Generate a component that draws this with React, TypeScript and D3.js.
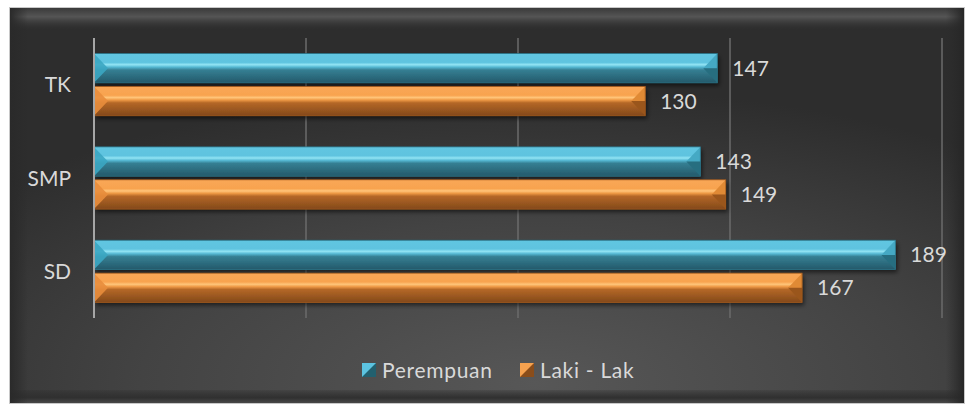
import React from "react";
import * as d3 from "d3";

const categories = ["TK", "SMP", "SD"];
const seriesNames = ["Perempuan", "Laki - Lak"];
const perempuan = [147, 143, 189];
const lakiLaki = [130, 149, 167];
const xTicks = [0, 50, 100, 150, 200];

const W = 965;
const H = 408;

export default function App() {
  const x = d3.scaleLinear().domain([0, 200]).range([94, 942]);
  const y = d3
    .scaleBand<string>()
    .domain(categories)
    .range([38, 318])
    .paddingInner(1 / 3)
    .paddingOuter(1 / 6);
  const ys = d3
    .scaleBand<string>()
    .domain(seriesNames)
    .range([0, y.bandwidth()]);

  const seriesVals = [perempuan, lakiLaki];
  const gradIds = ["gBlue", "gOrange"];
  const leftFace = ["#3ba6c2", "#e88d3c"];
  const rightTop = ["#45a9c4", "#e08a35"];
  const rightBot = ["#276e80", "#9a561c"];
  const markLight = ["#5cc3e0", "#f6a24f"];
  const markDark = ["#22606f", "#8a4d1a"];
  const font = "Lato, 'Open Sans', sans-serif";
  const textCol = "#d9d9d9";

  const bars: React.ReactNode[] = [];
  const labels: React.ReactNode[] = [];
  categories.forEach((c, ci) => {
    seriesNames.forEach((s, si) => {
      const v = seriesVals[si][ci];
      const y0 = (y(c) ?? 0) + (ys(s) ?? 0) + (si === 0 ? 0 : 1.8);
      const h = ys.bandwidth() - 1.8;
      const x0 = x(0);
      const x1 = x(v);
      const b = 14;
      const mid = y0 + h / 2;
      bars.push(
        <g key={c + s}>
          <rect x={x0} y={y0} width={x1 - x0} height={h} fill={`url(#${gradIds[si]})`} filter="url(#shadow)" />
          <polygon points={`${x0},${y0} ${x0 + b},${mid} ${x0},${y0 + h}`} fill={leftFace[si]} opacity={0.9} />
          <polygon points={`${x1},${y0} ${x1 - b},${mid} ${x1},${mid}`} fill={rightTop[si]} />
          <polygon points={`${x1},${mid} ${x1 - b},${mid} ${x1},${y0 + h}`} fill={rightBot[si]} />
          <rect x={x0} y={y0} width={x1 - x0} height={h} fill="none" stroke={si === 0 ? "#2a7488" : "#a0581c"} strokeWidth={0.8} />
        </g>
      );
      labels.push(
        <text
          key={"l" + c + s}
          x={x1 + 15}
          y={mid}
          dy="0.36em"
          fontSize={21}
          fontFamily={font}
          fill={textCol}
        >
          {v}
        </text>
      );
    });
  });

  return (
    <svg
      width={W}
      height={H}
      style={{ position: "absolute", left: 0, top: 0, background: "#fff" }}
    >
      <defs>
        <radialGradient id="bg" cx="55%" cy="95%" r="75%" fx="55%" fy="95%">
          <stop offset="0%" stopColor="#575757" />
          <stop offset="55%" stopColor="#434343" />
          <stop offset="100%" stopColor="#2d2d2d" />
        </radialGradient>
        <linearGradient id="topBevel" x1="0" y1="0" x2="0" y2="1">
          <stop offset="0%" stopColor="#3a3a3a" />
          <stop offset="40%" stopColor="#555555" />
          <stop offset="100%" stopColor="#333333" stopOpacity={0} />
        </linearGradient>
        <linearGradient id="botBevel" x1="0" y1="0" x2="0" y2="1">
          <stop offset="0%" stopColor="#2a2a2a" stopOpacity={0.2} />
          <stop offset="60%" stopColor="#303030" />
          <stop offset="100%" stopColor="#484848" />
        </linearGradient>
        <linearGradient id="leftBevel" x1="0" y1="0" x2="1" y2="0">
          <stop offset="0%" stopColor="#2a2a2a" />
          <stop offset="100%" stopColor="#2a2a2a" stopOpacity={0} />
        </linearGradient>
        <linearGradient id="rightBevel" x1="0" y1="0" x2="1" y2="0">
          <stop offset="0%" stopColor="#2a2a2a" stopOpacity={0} />
          <stop offset="100%" stopColor="#262626" />
        </linearGradient>
        <linearGradient id="gBlue" x1="0" y1="0" x2="0" y2="1">
          <stop offset="0%" stopColor="#62c6e1" />
          <stop offset="30%" stopColor="#5ec3df" />
          <stop offset="38%" stopColor="#92e4f4" />
          <stop offset="46%" stopColor="#56b9d4" />
          <stop offset="56%" stopColor="#357f93" />
          <stop offset="100%" stopColor="#24596a" />
        </linearGradient>
        <linearGradient id="gOrange" x1="0" y1="0" x2="0" y2="1">
          <stop offset="0%" stopColor="#f9a756" />
          <stop offset="30%" stopColor="#f8a34f" />
          <stop offset="38%" stopColor="#ffc57a" />
          <stop offset="46%" stopColor="#ef9a45" />
          <stop offset="56%" stopColor="#b46727" />
          <stop offset="100%" stopColor="#83491a" />
        </linearGradient>
        <filter id="shadow" x="-5%" y="-20%" width="115%" height="160%">
          <feDropShadow dx="2" dy="3" stdDeviation="2" floodColor="#000" floodOpacity="0.55" />
        </filter>
      </defs>

      {/* chart area */}
      <rect x={9.5} y={7.5} width={955} height={396} fill="url(#bg)" stroke="#c8c8c8" strokeWidth={1} />
      <rect x={10} y={8} width={954} height={22} fill="url(#topBevel)" />
      <rect x={10} y={390} width={954} height={13} fill="url(#botBevel)" />
      <rect x={10} y={8} width={18} height={395} fill="url(#leftBevel)" />
      <rect x={946} y={8} width={18} height={395} fill="url(#rightBevel)" />

      {/* gridlines */}
      {xTicks.slice(1).map((t) => (
        <line key={t} x1={x(t)} x2={x(t)} y1={38} y2={318} stroke="#6b6b6b" strokeWidth={1.5} />
      ))}

      {bars}

      {/* axis */}
      <line x1={x(0)} x2={x(0)} y1={38} y2={318} stroke="#a6a6a6" strokeWidth={2} />

      {labels}

      {/* category labels */}
      {categories.map((c) => (
        <text
          key={c}
          x={71}
          y={(y(c) ?? 0) + y.bandwidth() / 2}
          dy="0.36em"
          textAnchor="end"
          fontSize={21}
          fontFamily={font}
          fill={textCol}
        >
          {c}
        </text>
      ))}

      {/* legend */}
      {seriesNames.map((s, i) => {
        const lx = [362, 520][i];
        const ly = 363;
        const sz = 14;
        return (
          <g key={s}>
            <rect x={lx} y={ly} width={sz} height={sz} fill={markDark[i]} />
            <polygon points={`${lx},${ly} ${lx + sz},${ly} ${lx + sz / 2},${ly + sz / 2} ${lx},${ly + sz}`} fill={markLight[i]} />
            <text x={lx + 20} y={ly + sz / 2} dy="0.36em" fontSize={21} letterSpacing={0.7} fontFamily={font} fill={textCol}>
              {s}
            </text>
          </g>
        );
      })}
    </svg>
  );
}
